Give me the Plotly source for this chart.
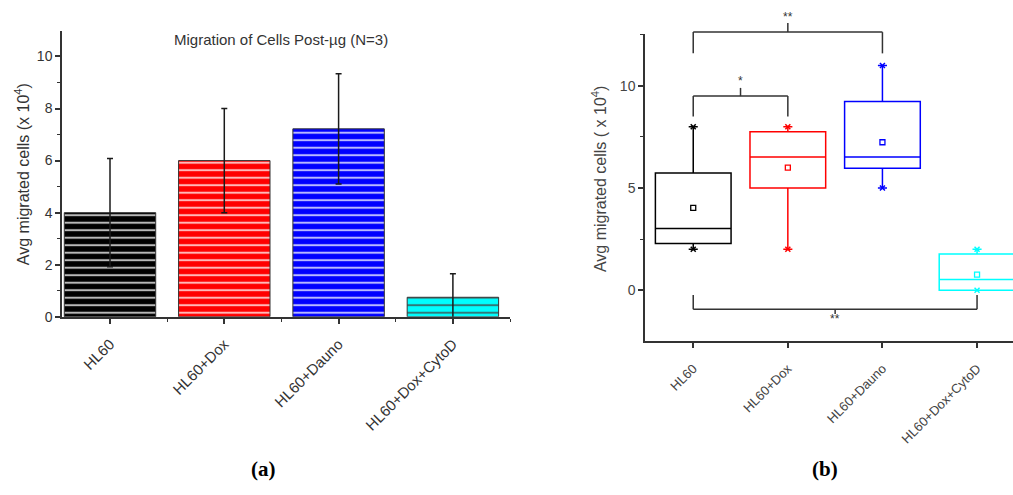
import plotly.graph_objects as go

# ---------------- data ----------------
categories = ["HL60", "HL60+Dox", "HL60+Dauno", "HL60+Dox+CytoD"]
colors = ["#000000", "#ff0000", "#0000ff", "#00ffff"]

# panel (a): bar means and error
bar_means = [4.0, 6.0, 7.22, 0.75]
bar_errors = [2.08, 2.0, 2.12, 0.9]

# panel (b): box statistics
box_q1 = [2.28, 5.0, 5.97, 0.0]
box_median = [3.02, 6.52, 6.52, 0.53]
box_q3 = [5.73, 7.75, 9.23, 1.77]
box_min = [2.0, 2.0, 5.0, 0.0]
box_max = [8.0, 8.0, 11.0, 2.0]
box_mean = [4.03, 6.0, 7.24, 0.76]

# significance brackets (category index pairs and labels)
sig_pairs = [(0, 2), (0, 1), (0, 3)]
sig_labels = ["**", "*", "**"]

# ---------------- layout geometry ----------------
W, H = 1013, 495
FONT = "Liberation Sans, Arial, sans-serif"
xa_dom = [0.0612, 0.5035]
ya_dom = [0.3495, 0.9354]
xb_dom = [0.6367, 1.0]
yb_dom = [0.2996, 0.9307]
yb_range = [-2.49, 12.55]

bracket_geom = [
    dict(leg=11.59, level=12.63, tip=13.08, text=13.36),
    dict(leg=8.5, level=9.5, tip=9.9, text=10.22),
    dict(leg=-0.24, level=-0.93, tip=-1.16, text=-1.42),
]


def yb_paper(v):
    return yb_dom[0] + (v - yb_range[0]) / (yb_range[1] - yb_range[0]) * (yb_dom[1] - yb_dom[0])


xs = list(range(len(categories)))
fig = go.Figure()

# ---------------- panel (a) bars ----------------
fig.add_trace(go.Bar(
    x=xs, y=bar_means, width=0.8,
    marker=dict(
        color=colors,
        line=dict(color="#333333", width=1),
        pattern=dict(shape="-", size=7.5, solidity=0.27, fillmode="overlay",
                     fgcolor="white", fgopacity=0.72),
    ),
    error_y=dict(type="data", array=bar_errors, visible=True,
                 color="#1a1a1a", thickness=1.5, width=3),
    xaxis="x", yaxis="y", showlegend=False, hoverinfo="skip",
))

# ---------------- panel (b) boxes ----------------
for i, c in enumerate(colors):
    fig.add_trace(go.Box(
        x=[i], q1=[box_q1[i]], median=[box_median[i]], q3=[box_q3[i]],
        lowerfence=[box_min[i]], upperfence=[box_max[i]],
        width=0.8, whiskerwidth=0.12, boxpoints=False,
        line=dict(color=c, width=1.5), fillcolor="rgba(0,0,0,0)",
        xaxis="x2", yaxis="y2", showlegend=False, hoverinfo="skip",
    ))

fig.add_trace(go.Scatter(
    x=xs, y=box_mean, mode="markers",
    marker=dict(symbol="square-open", size=5, color=colors,
                line=dict(width=1.3, color=colors)),
    xaxis="x2", yaxis="y2", showlegend=False, hoverinfo="skip",
))
fig.add_trace(go.Scatter(
    x=xs + xs, y=box_min + box_max, mode="markers",
    marker=dict(symbol="x-thin-open", size=5, color=colors + colors,
                line=dict(width=1.5, color=colors + colors)),
    xaxis="x2", yaxis="y2", showlegend=False, hoverinfo="skip",
))

# ---------------- brackets ----------------
shapes = []
annotations = []
lc = dict(color="#333333", width=1.5)
for (a, b), lab, g in zip(sig_pairs, sig_labels, bracket_geom):
    mid = (a + b) / 2
    for xx in (a, b):
        shapes.append(dict(type="line", xref="x2", yref="paper",
                           x0=xx, x1=xx, y0=yb_paper(g["leg"]), y1=yb_paper(g["level"]), line=lc))
    shapes.append(dict(type="line", xref="x2", yref="paper",
                       x0=a, x1=b, y0=yb_paper(g["level"]), y1=yb_paper(g["level"]), line=lc))
    shapes.append(dict(type="line", xref="x2", yref="paper",
                       x0=mid, x1=mid, y0=yb_paper(g["level"]), y1=yb_paper(g["tip"]), line=lc))
    annotations.append(dict(text=lab, xref="x2", yref="paper", x=mid, y=yb_paper(g["text"]),
                            showarrow=False, yanchor="middle", xanchor="center",
                            font=dict(family=FONT, size=12, color="#333333")))

# ---------------- texts ----------------
annotations += [
    dict(text="Migration of Cells Post-µg (N=3)", xref="paper", yref="paper",
         x=281 / W, y=1 - 40 / H, showarrow=False, xanchor="center", yanchor="middle",
         font=dict(family=FONT, size=15, color="#333333")),
    dict(text="Avg migrated cells (x 10<sup>4</sup>)", xref="paper", yref="paper",
         x=22 / W, y=1 - 177 / H, showarrow=False, textangle=-90,
         xanchor="center", yanchor="middle",
         font=dict(family=FONT, size=16, color="#333333")),
    dict(text="Avg migrated cells ( x 10<sup>4</sup>)", xref="paper", yref="paper",
         x=599 / W, y=1 - 182 / H, showarrow=False, textangle=-90,
         xanchor="center", yanchor="middle",
         font=dict(family=FONT, size=16, color="#444444")),
    dict(text="<b>(a)</b>", xref="paper", yref="paper", x=263 / W, y=1 - 477 / H,
         showarrow=False, xanchor="center", yanchor="middle",
         font=dict(family="Liberation Serif, serif", size=21, color="#000000")),
    dict(text="<b>(b)</b>", xref="paper", yref="paper", x=825 / W, y=1 - 477 / H,
         showarrow=False, xanchor="center", yanchor="middle",
         font=dict(family="Liberation Serif, serif", size=21, color="#000000")),
]

axis_common = dict(showgrid=False, zeroline=False, showline=True,
                   linecolor="#333333", linewidth=1.5, ticks="outside",
                   tickcolor="#333333", tickwidth=1.5, ticklen=5)

fig.update_layout(
    width=W, height=H,
    margin=dict(l=0, r=0, t=0, b=0),
    paper_bgcolor="white", plot_bgcolor="white",
    showlegend=False,
    bargap=0.2,
    xaxis=dict(domain=xa_dom, anchor="y", range=[-0.42, 3.5],
               tickvals=xs, ticktext=categories, tickangle=-45,
               ticklabelstandoff=6,
               tickfont=dict(family=FONT, size=15, color="#333333"),
               minor=dict(tick0=0.5, dtick=1, ticks="outside", ticklen=3,
                          tickcolor="#333333", tickwidth=1.2),
               **axis_common),
    yaxis=dict(domain=ya_dom, anchor="x", range=[0, 10.96],
               tick0=0, dtick=2,
               tickfont=dict(family=FONT, size=14, color="#333333"),
               minor=dict(tick0=0, dtick=1, ticks="outside", ticklen=3,
                          tickcolor="#333333", tickwidth=1.2),
               **axis_common),
    xaxis2=dict(domain=xb_dom, anchor="y2", range=[-0.51, 3.38],
                tickvals=xs, ticktext=categories, tickangle=-45,
                ticklabelstandoff=8,
                tickfont=dict(family=FONT, size=13, color="#444444"),
                **axis_common),
    yaxis2=dict(domain=yb_dom, anchor="x2", range=yb_range,
                tick0=0, dtick=5,
                tickfont=dict(family=FONT, size=14, color="#444444"),
                minor=dict(tick0=0, dtick=2.5, ticks="outside", ticklen=3,
                           tickcolor="#333333", tickwidth=1.2),
                **axis_common),
    shapes=shapes,
    annotations=annotations,
)

fig.write_html("out.html", config={"displayModeBar": False},
               post_script="document.body.style.margin='0';")
